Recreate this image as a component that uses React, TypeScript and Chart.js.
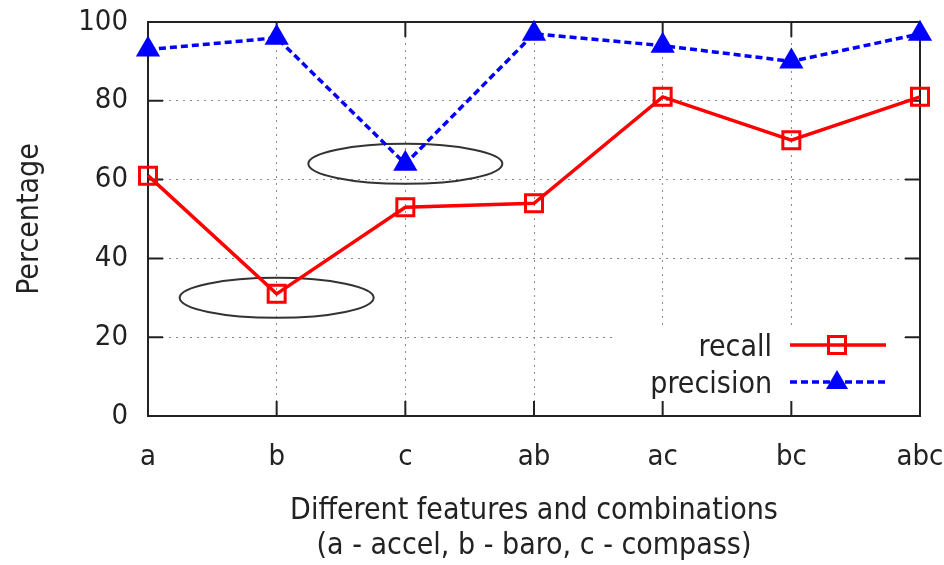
import React, { useEffect, useRef } from "react";
import { Chart, registerables } from "chart.js";

Chart.register(...registerables);

const categories = ["a", "b", "c", "ab", "ac", "bc", "abc"];
const recall = [61, 31, 53, 54, 81, 70, 81];
const precision = [93, 96, 64, 97, 94, 90, 97];
const yTicks = [0, 20, 40, 60, 80, 100];
const seriesNames = ["recall", "precision"];
const xTitle = ["Different features and combinations", "(a - accel, b - baro, c - compass)"];
const yTitle = "Percentage";
// annotation ellipses: [category index, value]
const ellipseCenters: [number, number][] = [
  [1, 30],
  [2, 64],
];

const FONT = "'DejaVu Sans Condensed', 'DejaVu Sans', sans-serif";
const TEXT = "#222222";
const RED = "#ff0000";
const BLUE = "#0000ff";
const DASH = [7, 4];

const gnuplotPlugin = {
  id: "gnuplotDecor",
  beforeDatasetsDraw(chart: any) {
    const { ctx, chartArea: a, scales } = chart;
    const xs = scales.x;
    const ys = scales.y;
    ctx.save();
    // key box clears grid
    ctx.fillStyle = "#ffffff";
    ctx.fillRect(a.right - 308, a.bottom - 86, 290, 85);
    // ellipses
    ctx.strokeStyle = "#333333";
    ctx.lineWidth = 2;
    ellipseCenters.forEach(([ci, v]) => {
      ctx.beginPath();
      ctx.ellipse(xs.getPixelForValue(ci), ys.getPixelForValue(v), 97, 20, 0, 0, Math.PI * 2);
      ctx.stroke();
    });
    // border
    ctx.strokeStyle = "#222222";
    ctx.lineWidth = 2;
    ctx.strokeRect(a.left, a.top, a.right - a.left, a.bottom - a.top);
    // inward ticks
    ctx.beginPath();
    const tl = 15;
    yTicks.forEach((v) => {
      const y = ys.getPixelForValue(v);
      ctx.moveTo(a.left, y);
      ctx.lineTo(a.left + tl, y);
      ctx.moveTo(a.right, y);
      ctx.lineTo(a.right - tl, y);
    });
    categories.forEach((_, i) => {
      const x = xs.getPixelForValue(i);
      ctx.moveTo(x, a.bottom);
      ctx.lineTo(x, a.bottom - tl);
      ctx.moveTo(x, a.top);
      ctx.lineTo(x, a.top + tl);
    });
    ctx.stroke();
    ctx.restore();
  },
  afterDatasetsDraw(chart: any) {
    const { ctx, chartArea: a } = chart;
    ctx.save();
    const rows = [a.bottom - 71, a.bottom - 34];
    const textX = a.right - 148;
    const x0 = a.right - 130;
    const x1 = a.right - 34;
    const mx = a.right - 83;
    ctx.font = `30px ${FONT}`;
    ctx.fillStyle = TEXT;
    ctx.textAlign = "right";
    ctx.textBaseline = "alphabetic";
    seriesNames.forEach((n, i) => ctx.fillText(n, textX, rows[i] + 11));
    // recall sample
    ctx.strokeStyle = RED;
    ctx.lineWidth = 3.5;
    ctx.beginPath();
    ctx.moveTo(x0, rows[0]);
    ctx.lineTo(x1, rows[0]);
    ctx.stroke();
    ctx.lineWidth = 3;
    ctx.strokeRect(mx - 8.5, rows[0] - 8.5, 17, 17);
    // precision sample
    ctx.strokeStyle = BLUE;
    ctx.lineWidth = 3.5;
    ctx.setLineDash(DASH);
    ctx.beginPath();
    ctx.moveTo(x0, rows[1]);
    ctx.lineTo(x1, rows[1]);
    ctx.stroke();
    ctx.setLineDash([]);
    ctx.fillStyle = BLUE;
    ctx.beginPath();
    ctx.moveTo(mx, rows[1] - 12);
    ctx.lineTo(mx + 11, rows[1] + 7);
    ctx.lineTo(mx - 11, rows[1] + 7);
    ctx.closePath();
    ctx.fill();
    ctx.restore();
  },
};

export default function App() {
  const ref = useRef<HTMLCanvasElement>(null);
  useEffect(() => {
    if (!ref.current) return;
    const chart = new Chart(ref.current, {
      type: "line",
      data: {
        labels: categories,
        datasets: [
          {
            label: seriesNames[0],
            data: recall,
            borderColor: RED,
            borderWidth: 3.5,
            pointStyle: "rect",
            pointRadius: 12,
            pointBorderWidth: 3,
            pointBorderColor: RED,
            pointBackgroundColor: "rgba(0,0,0,0)",
            tension: 0,
            clip: false as any,
          },
          {
            label: seriesNames[1],
            data: precision,
            borderColor: BLUE,
            borderWidth: 3.5,
            borderDash: DASH,
            pointStyle: "triangle",
            pointRadius: 12.5,
            pointBorderWidth: 1.5,
            pointBorderColor: BLUE,
            pointBackgroundColor: BLUE,
            tension: 0,
            clip: false as any,
          },
        ],
      },
      options: {
        responsive: false,
        animation: false,
        layout: { padding: { left: 0, right: 24, top: 22, bottom: 0 } },
        plugins: { legend: { display: false }, tooltip: { enabled: false } },
        scales: {
          x: {
            offset: false,
            grid: {
              drawTicks: false,
              color: (c: any) =>
                c.index === 0 || c.index === categories.length - 1 ? "rgba(0,0,0,0)" : "#8a8a8a",
              lineWidth: 1,
            },
            border: { display: false, dash: [2, 5] },
            ticks: {
              autoSkip: false,
              maxRotation: 0,
              padding: 24,
              color: TEXT,
              font: { family: FONT, size: 29 },
            },
            title: {
              display: true,
              text: xTitle,
              color: TEXT,
              font: { family: FONT, size: 30, lineHeight: 1.17 },
              padding: { top: 0, bottom: 1 },
            },
            afterFit: (s: any) => {
              s.height = 149;
              s.paddingLeft = 0;
              s.paddingRight = 0;
            },
          },
          y: {
            min: 0,
            max: 100,
            afterBuildTicks: (s: any) => {
              s.ticks = yTicks.map((v) => ({ value: v }));
            },
            grid: {
              drawTicks: false,
              color: (c: any) =>
                c.tick && (c.tick.value === 0 || c.tick.value === 100) ? "rgba(0,0,0,0)" : "#8a8a8a",
              lineWidth: 1,
            },
            border: { display: false, dash: [2, 5] },
            ticks: {
              padding: 20,
              color: TEXT,
              font: { family: FONT, size: 29 },
            },
            title: {
              display: true,
              text: yTitle,
              color: TEXT,
              font: { family: FONT, size: 30, lineHeight: 1.2 },
              padding: { top: 12, bottom: 0 },
            },
            afterFit: (s: any) => {
              s.width = 148;
              s.paddingTop = 0;
              s.paddingBottom = 0;
            },
          },
        },
      },
      plugins: [gnuplotPlugin],
    });
    return () => chart.destroy();
  }, []);
  return (
    <canvas
      ref={ref}
      width={944}
      height={565}
      style={{ position: "absolute", left: 0, top: 0, width: 944, height: 565 }}
    />
  );
}
